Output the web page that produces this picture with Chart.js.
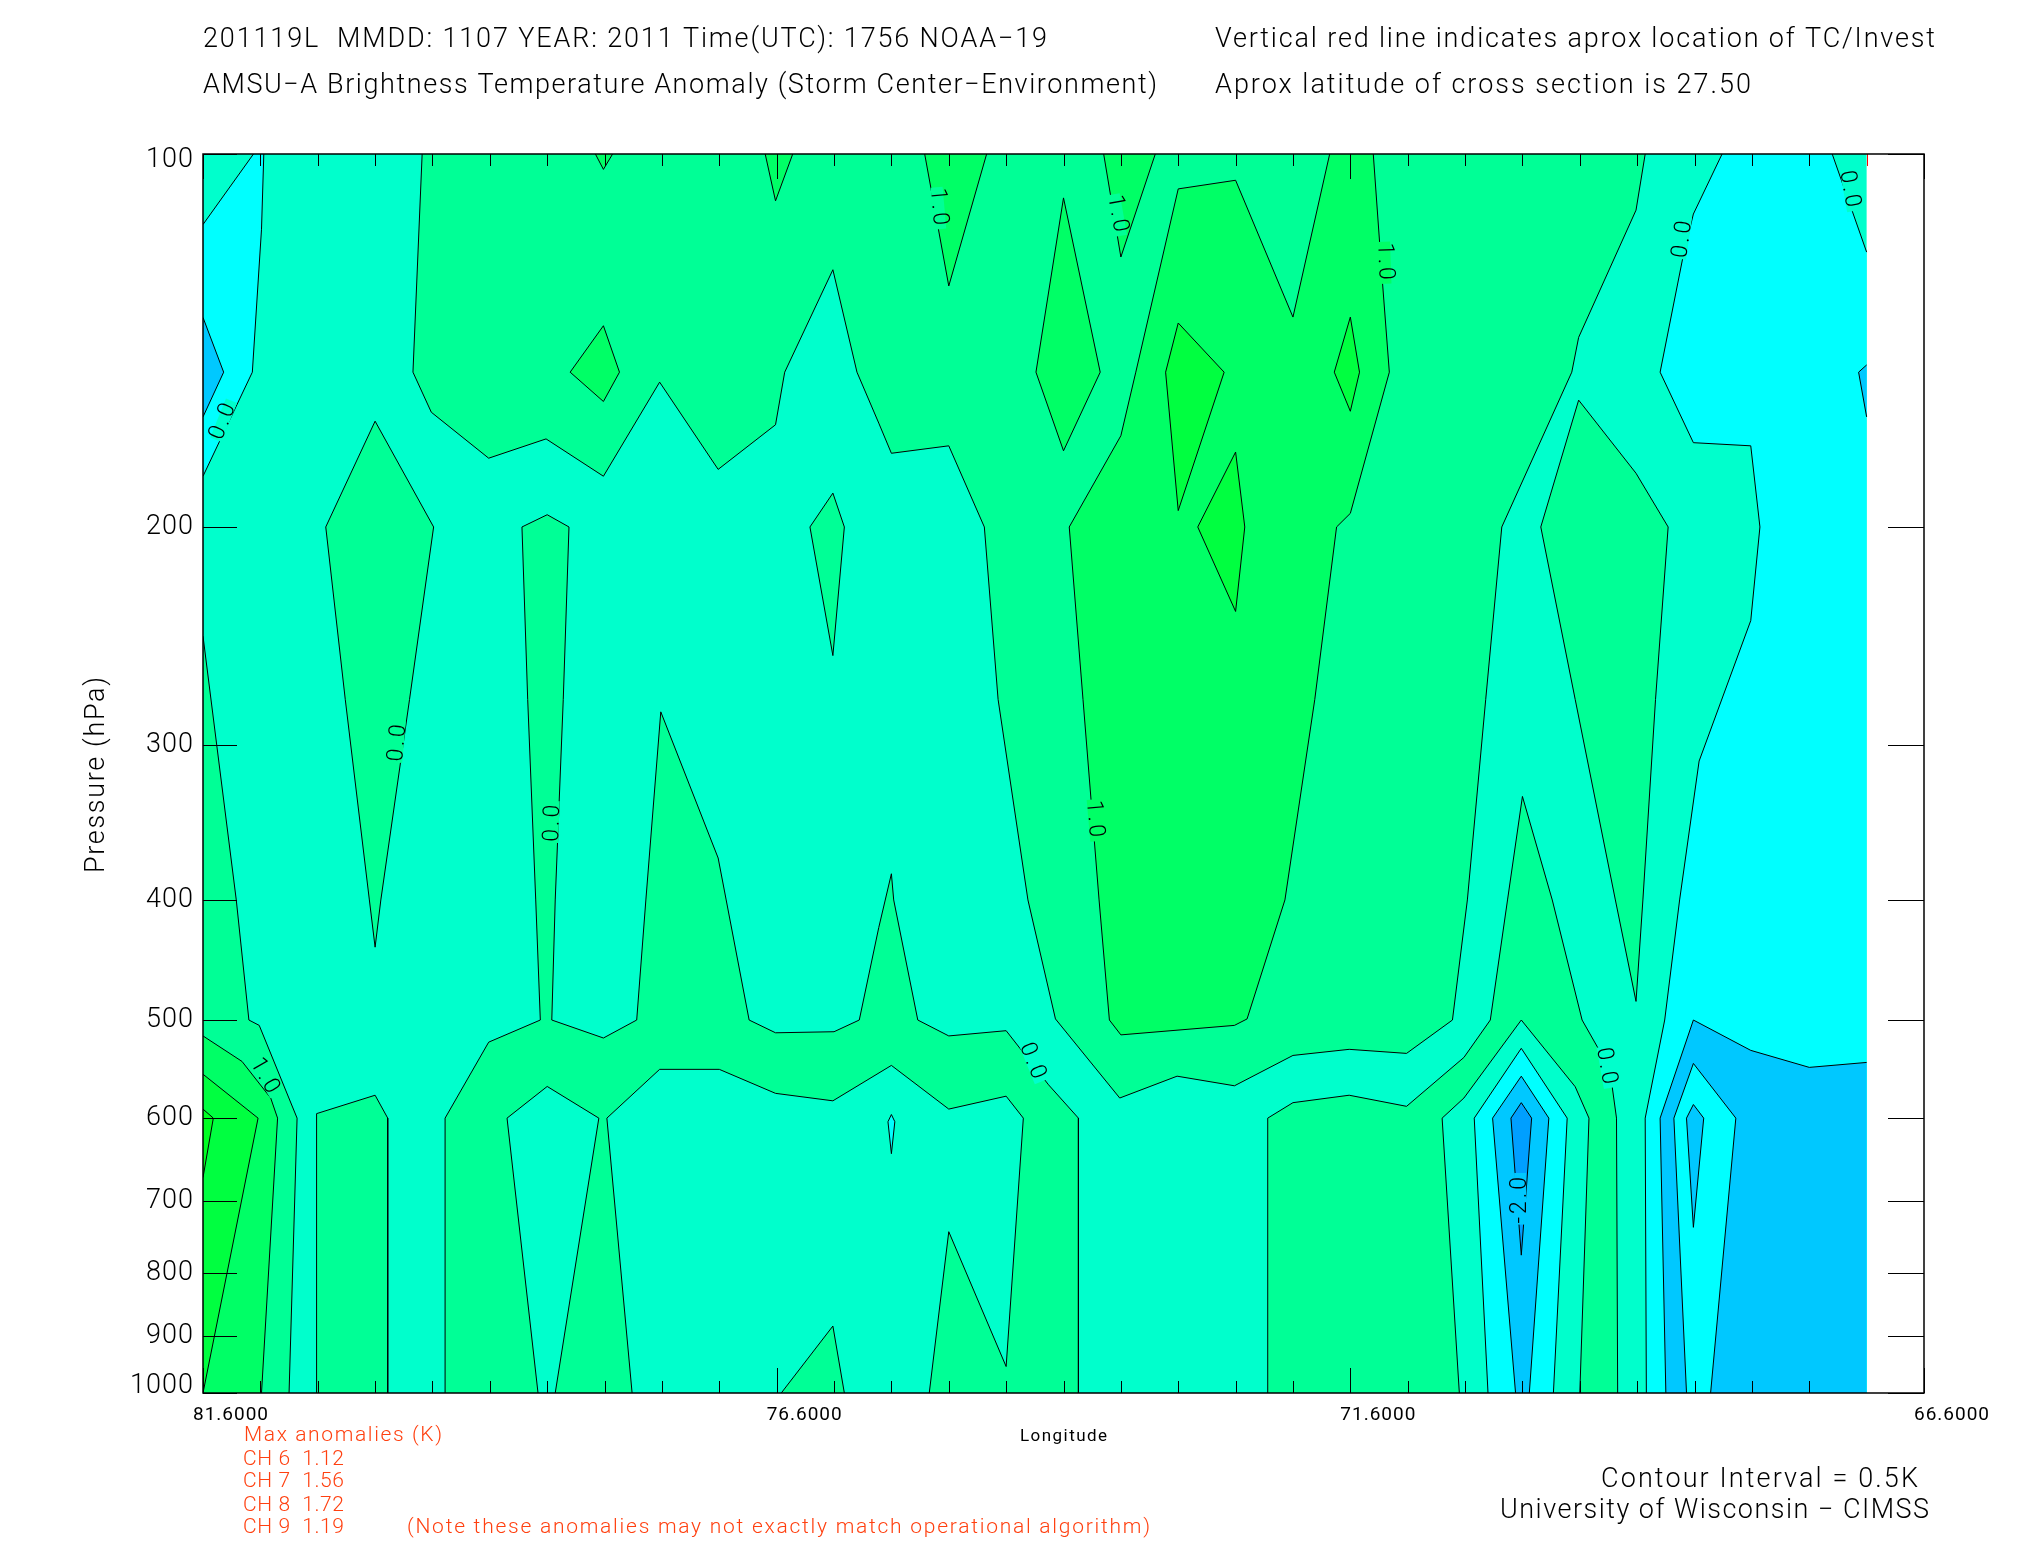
<!DOCTYPE html>
<html>
<head>
<meta charset="utf-8">
<title>AMSU-A Brightness Temperature Anomaly</title>
<script src="https://cdn.jsdelivr.net/npm/chart.js@4"></script>
<style>
  html, body { margin: 0; background: #ffffff; }
  canvas { display: block; }
</style>
</head>
<body>
<canvas id="crossSection" width="2025" height="1550"></canvas>
<script>
// axis values
const pressureTicks = [100, 200, 300, 400, 500, 600, 700, 800, 900, 1000];
const lonMajorTicks = [81.6, 76.6, 71.6, 66.6];
const lonMinorTicks = [81.1, 80.6, 80.1, 79.6, 79.1, 78.6, 78.1, 77.6, 77.1, 76.1, 75.6, 75.1, 74.6,
    74.1, 73.6, 73.1, 72.6, 72.1, 71.1, 70.6, 70.1, 69.6, 69.1, 68.6, 68.1, 67.6];
const stormLon = 67.1;

// contour regions, [longitude, pressure]
const wholeSection = [[81.6, 100], [67.1, 100], [67.1, 1000], [81.6, 1000]];
const cyanLeft = [[81.16, 100], [81.07, 100], [81.09, 115], [81.17, 150], [81.6, 182], [81.6, 114]];
const blueLeft = [[81.6, 135.5], [81.42, 150], [81.6, 163]];
const greenTop = [[79.69, 100], [79.77, 150], [79.61, 161.6], [79.11, 176], [78.61, 169.8], [78.11, 182],
    [77.62, 152.8], [77.11, 179.7], [76.61, 165.4], [76.53, 150], [76.11, 124], [75.9, 150], [75.71, 164.9],
    [75.6, 174.4], [75.1, 172], [74.79, 200], [74.67, 275.6], [74.41, 400], [74.17, 499], [73.61, 578],
    [73.11, 555], [72.61, 565], [72.1, 534], [71.61, 528], [71.11, 532], [70.71, 500], [70.58, 400],
    [70.42, 275.6], [70.28, 200], [69.67, 150], [69.61, 140.6], [69.11, 111], [69.03, 100]];
const tipA = [[78.18, 100], [78.03, 100], [78.11, 102.9]];
const tipB = [[76.7, 100], [76.46, 100], [76.61, 109.1]];
const diamondA = [[78.11, 137.6], [77.97, 150], [78.11, 158.4], [78.4, 150]];
const tipC = [[75.31, 100], [74.77, 100], [75.1, 127.8]];
const tipD = [[73.75, 100], [73.3, 100], [73.6, 121.1]];
const diamondB = [[74.1, 108.5], [73.78, 150], [74.1, 173.6], [74.34, 150]];
const greenCore = [[74.05, 200], [73.6, 168.8], [73.47, 150], [73.1, 106.7], [72.6, 105], [72.1, 135.4],
    [71.78, 100], [71.4, 100], [71.32, 126.9], [71.26, 150], [71.6, 195], [71.72, 200], [71.91, 275.6],
    [72.17, 400], [72.5, 499], [72.61, 505], [73.6, 514], [73.7, 500], [73.79, 400], [73.93, 275.6]];
const coreHighA = [[73.1, 136.9], [72.7, 150], [73.1, 194], [73.21, 150]];
const coreHighB = [[72.6, 174], [72.52, 200], [72.6, 234], [72.93, 200]];
const coreHighC = [[71.6, 135.4], [71.52, 150], [71.6, 161.3], [71.74, 150]];
const spindleA = [[80.1, 164.3], [79.59, 200], [79.8, 275.6], [80.05, 400], [80.1, 436.7], [80.15, 400],
    [80.36, 275.6], [80.53, 200]];
const spindleB = [[76.11, 187.8], [76.01, 200], [76.11, 254], [76.31, 200]];
const greenBand = [[79.49, 1000], [79.49, 600], [79.11, 521], [78.66, 500], [78.7, 400], [78.77, 275.6],
    [78.82, 200], [78.6, 195.5], [78.41, 200], [78.46, 275.6], [78.53, 400], [78.56, 500], [78.11, 517],
    [77.82, 500], [77.74, 400], [77.61, 282], [77.11, 370], [77.04, 400], [76.84, 500], [76.61, 512],
    [76.1, 511], [75.88, 500], [75.71, 421], [75.6, 381], [75.58, 400], [75.37, 500], [75.1, 515],
    [74.6, 510], [74.23, 564], [73.97, 600], [73.97, 1000]];
const blockLeft = [[80.61, 1000], [80.61, 595], [80.1, 575], [79.99, 600], [79.99, 1000]];
const notchA = [[78.95, 600], [78.6, 565.7], [78.15, 600], [78.53, 1000], [78.68, 1000]];
const notchB = [[78.08, 600], [77.62, 548], [77.1, 548], [76.61, 573], [76.11, 581], [75.6, 544], [75.1, 590],
    [74.6, 576], [74.45, 600], [74.6, 952], [75.1, 741], [75.27, 1000], [77.86, 1000]];
const wedgeLow = [[76.56, 1000], [76.11, 883], [76.01, 1000]];
const edgeA = [[81.6, 245], [81.31, 400], [81.2, 500], [81.11, 505], [80.78, 600], [80.85, 1000], [81.6, 1000]];
const edgeB = [[81.6, 515], [81.26, 540], [81.01, 578], [80.95, 600], [81.09, 1000], [81.6, 1000]];
const edgeC = [[81.6, 553], [81.12, 600], [81.6, 1000]];
const edgeD = [[81.6, 590], [81.51, 600], [81.6, 670]];
const greenLower = [[72.32, 1000], [72.32, 600], [72.1, 583], [71.61, 575], [71.11, 587], [70.61, 536],
    [70.38, 500], [70.23, 400], [70.1, 330], [69.84, 400], [69.58, 500], [69.44, 527], [69.32, 564],
    [69.28, 600], [69.27, 1000], [69.6, 1000], [69.52, 600], [69.64, 566], [70.11, 500], [70.61, 578],
    [70.8, 600], [70.65, 1000]];
const coldOuter = [[70.52, 600], [70.11, 527], [69.71, 600], [69.83, 1000], [70.4, 1000]];
const coldMiddle = [[70.36, 600], [70.11, 555], [69.87, 600], [70.04, 1000], [70.16, 1000]];
const coldInner = [[70.2, 600], [70.11, 583], [70.02, 600], [70.11, 774]];
const cyanRight = [[68.36, 100], [67.4, 100], [67.1, 120], [67.1, 1000], [69.02, 1000], [69.03, 600],
    [68.86, 500], [68.73, 400], [68.56, 309], [68.11, 238], [68.03, 200], [68.11, 172], [68.61, 171],
    [68.9, 150], [68.7, 121], [68.61, 111.8]];
const blueRight = [[68.61, 500], [68.11, 529], [67.6, 546], [67.1, 541], [67.1, 1000], [68.85, 1000], [68.9, 600]];
const cyanPocket = [[68.61, 542], [68.24, 600], [68.46, 1000], [68.67, 1000], [68.78, 600]];
const bluePocket = [[68.61, 585], [68.52, 600], [68.61, 735], [68.67, 600]];
const blueEdge = [[67.1, 148], [67.17, 150], [67.1, 163]];
const cyanSliver = [[75.6, 596], [75.57, 604], [75.6, 641], [75.63, 604]];
const spindleC = [[69.61, 158], [69.11, 181], [68.83, 200], [68.94, 275.6], [69.05, 400], [69.11, 483],
    [69.29, 400], [69.64, 275.6], [69.94, 200]];

// contour annotations
const labelTexts = ['0.0', '0.0', '0.0', '1.0', '0.0', '1.0', '1.0', '1.0', '1.0', '0.0', '0.0', '0.0', '-2.0'];
const labelLons = [81.42, 79.9, 78.55, 81.06, 74.37, 75.19, 73.63, 71.3, 73.83, 68.7, 67.25, 69.37, 70.12];
const labelPressures = [164, 298, 346, 556, 541, 110.6, 112, 122.4, 345, 116.9, 107, 546, 697];

const TEAL = '#00ffcc', CYAN = '#00ffff', BLUE = '#00c8ff', DEEP = '#009fff';
const GREEN = '#00ff96', BRIGHT = '#00ff66', VIVID = '#00ff40', PEAK = '#00ff22';
const RED = '#ff4010';

// painted back to front
const regions = [
    [wholeSection, TEAL], [cyanLeft, CYAN], [blueLeft, BLUE],
    [greenTop, GREEN], [tipA, BRIGHT], [tipB, BRIGHT], [diamondA, BRIGHT], [tipC, BRIGHT], [tipD, BRIGHT], [diamondB, BRIGHT],
    [greenCore, BRIGHT], [coreHighA, VIVID], [coreHighB, VIVID], [coreHighC, VIVID],
    [spindleA, GREEN], [spindleB, GREEN],
    [greenBand, GREEN], [notchA, TEAL], [notchB, TEAL], [wedgeLow, GREEN], [blockLeft, GREEN], [cyanSliver, CYAN],
    [edgeA, GREEN], [edgeB, BRIGHT], [edgeC, VIVID], [edgeD, PEAK],
    [greenLower, GREEN], [coldOuter, CYAN], [coldMiddle, BLUE], [coldInner, DEEP],
    [spindleC, GREEN], [cyanRight, CYAN], [blueRight, BLUE], [cyanPocket, CYAN], [bluePocket, BLUE], [blueEdge, BLUE]
];

const labelPatch = [TEAL, GREEN, GREEN, GREEN, TEAL, GREEN, GREEN, BRIGHT, BRIGHT, TEAL, TEAL, TEAL, BLUE];
const labelAngles = [-68, -85, -88, 60, 68, 85, 80, 88, 85, -82, 80, 80, -90];

const THIN = '300 27px Roboto';
const SMALL = '300 21px Roboto';

// left, right, baseline of each free text line on the page
const pageTexts = [
    ['201119L  MMDD: 1107 YEAR: 2011 Time(UTC): 1756 NOAA\u221219', 203, 1047, 47, THIN, '#000'],
    ['AMSU\u2212A Brightness Temperature Anomaly (Storm Center\u2212Environment)', 203, 1157, 93, THIN, '#000'],
    ['Vertical red line indicates aprox location of TC/Invest', 1215, 1935, 47, THIN, '#000'],
    ['Aprox latitude of cross section is 27.50', 1215, 1751, 93, THIN, '#000'],
    ['Longitude', 1020, 1107, 1441, '400 17px Roboto', '#000'],
    ['Max anomalies (K)', 244, 442, 1441, SMALL, RED],
    ['CH 6  1.12', 243, 344, 1465, SMALL, RED],
    ['CH 7  1.56', 243, 344, 1487, SMALL, RED],
    ['CH 8  1.72', 243, 344, 1511, SMALL, RED],
    ['CH 9  1.19', 243, 344, 1533, SMALL, RED],
    ['(Note these anomalies may not exactly match operational algorithm)', 407, 1150, 1533, SMALL, RED],
    ['Contour Interval = 0.5K', 1601, 1918, 1487, THIN, '#000'],
    ['University of Wisconsin \u2212 CIMSS', 1500, 1929, 1518, THIN, '#000']
];

function onFrame(a, b) {
    return (a.x === b.x && (a.x === 81.6 || a.x === 67.1)) || (a.y === b.y && (a.y === 100 || a.y === 1000));
}

// writes text so that it runs exactly the given length, spacing the letters out
function fitText(ctx, text, x, y, length) {
    ctx.letterSpacing = '0px';
    const w = ctx.measureText(text).width;
    ctx.letterSpacing = ((length - w) / (text.length - 1)).toFixed(3) + 'px';
    ctx.fillText(text, x, y);
    ctx.letterSpacing = '0px';
}

const datasets = [];
regions.forEach(function (region) {
    const pts = region[0].map(function (p) { return { x: p[0], y: p[1] }; });
    pts.push(pts[0]);
    datasets.push({ data: pts, showLine: true, fill: 'shape', backgroundColor: region[1], borderWidth: 0, pointRadius: 0 });
    datasets.push({
        data: pts, showLine: true, fill: false, borderColor: '#000', borderWidth: 1, pointRadius: 0,
        segment: { borderColor: function (ctx) { return onFrame(ctx.p0.parsed, ctx.p1.parsed) ? 'transparent' : undefined; } }
    });
});
// chart.js paints the first dataset last
datasets.reverse();

const sectionFrame = {
    id: 'sectionFrame',
    afterDatasetsDraw: function (chart) {
        const ctx = chart.ctx, area = chart.chartArea, x = chart.scales.x, y = chart.scales.y;
        ctx.save();

        // contour labels
        labelTexts.forEach(function (text, i) {
            const px = x.getPixelForValue(labelLons[i]), py = y.getPixelForValue(labelPressures[i]);
            ctx.save();
            ctx.translate(px, py);
            ctx.rotate(labelAngles[i] * Math.PI / 180);
            ctx.font = '300 23px Roboto';
            ctx.letterSpacing = '3px';
            const w = ctx.measureText(text).width;
            ctx.fillStyle = labelPatch[i];
            ctx.fillRect(-w / 2 - 1, -6, w + 2, 12);
            ctx.fillStyle = '#000';
            ctx.textAlign = 'center';
            ctx.textBaseline = 'middle';
            ctx.fillText(text, 0, 0);
            ctx.restore();
        });

        // inward ticks on all four sides
        ctx.strokeStyle = '#000';
        ctx.lineWidth = 1;
        ctx.beginPath();
        lonMinorTicks.forEach(function (lon) {
            const px = Math.round(x.getPixelForValue(lon)) + 0.5;
            ctx.moveTo(px, area.top); ctx.lineTo(px, area.top + 12);
            ctx.moveTo(px, area.bottom); ctx.lineTo(px, area.bottom - 12);
        });
        lonMajorTicks.forEach(function (lon) {
            const px = Math.round(x.getPixelForValue(lon)) + 0.5;
            ctx.moveTo(px, area.top); ctx.lineTo(px, area.top + 25);
            ctx.moveTo(px, area.bottom); ctx.lineTo(px, area.bottom - 25);
        });
        pressureTicks.forEach(function (p) {
            const py = Math.round(y.getPixelForValue(p)) + 0.5;
            ctx.moveTo(area.left, py); ctx.lineTo(area.left + 34, py);
            ctx.moveTo(area.right, py); ctx.lineTo(area.right - 36, py);
        });
        ctx.stroke();

        // storm marker only shows as a red stub at the top edge
        const stormX = Math.round(x.getPixelForValue(stormLon)) + 0.5;
        ctx.strokeStyle = '#ff0000';
        ctx.beginPath();
        ctx.moveTo(stormX, area.top);
        ctx.lineTo(stormX, area.top + 12);
        ctx.stroke();

        ctx.strokeStyle = '#000';
        ctx.lineWidth = 1.5;
        ctx.strokeRect(area.left, area.top, area.right - area.left, area.bottom - area.top);

        // axis labels, stretched to the widths they have in the picture
        ctx.textBaseline = 'alphabetic';
        ctx.fillStyle = '#000';
        ctx.textAlign = 'left';
        ctx.font = '400 19px Roboto';
        lonMajorTicks.forEach(function (lon) {
            fitText(ctx, lon.toFixed(4), x.getPixelForValue(lon) - 10, 1420, 75);
        });

        ctx.font = THIN;
        ctx.textAlign = 'right';
        ctx.textBaseline = 'middle';
        ctx.letterSpacing = '1px';
        pressureTicks.forEach(function (p) {
            const py = Math.min(area.bottom - 7, Math.max(area.top + 6, y.getPixelForValue(p)));
            ctx.fillText(String(p), 194, py);
        });
        ctx.letterSpacing = '0px';

        ctx.save();
        ctx.translate(104, 873);
        ctx.rotate(-Math.PI / 2);
        ctx.textAlign = 'left';
        ctx.textBaseline = 'alphabetic';
        fitText(ctx, 'Pressure (hPa)', 0, 0, 196);
        ctx.restore();

        // page text
        ctx.textAlign = 'left';
        ctx.textBaseline = 'alphabetic';
        pageTexts.forEach(function (t) {
            ctx.font = t[4];
            ctx.fillStyle = t[5];
            fitText(ctx, t[0], t[1], t[3], t[2] - t[1]);
        });
        ctx.restore();
    }
};

new Chart(document.getElementById('crossSection'), {
    type: 'scatter',
    data: { datasets: datasets },
    options: {
        responsive: false,
        animation: false,
        events: [],
        layout: { padding: { top: 154, right: 101, left: 0, bottom: 0 } },
        plugins: { legend: { display: false }, tooltip: { enabled: false }, title: { display: false } },
        scales: {
            x: {
                type: 'linear',
                reverse: true,
                min: 66.6,
                max: 81.6,
                grid: { display: false },
                border: { display: false },
                ticks: { display: false },
                afterFit: function (s) { s.height = 157; }
            },
            y: {
                type: 'logarithmic',
                reverse: true,
                min: 100,
                max: 1000,
                grid: { display: false },
                border: { display: false },
                ticks: { display: false },
                afterFit: function (s) { s.width = 203; }
            }
        }
    },
    plugins: [sectionFrame]
});
</script>
</body>
</html>
